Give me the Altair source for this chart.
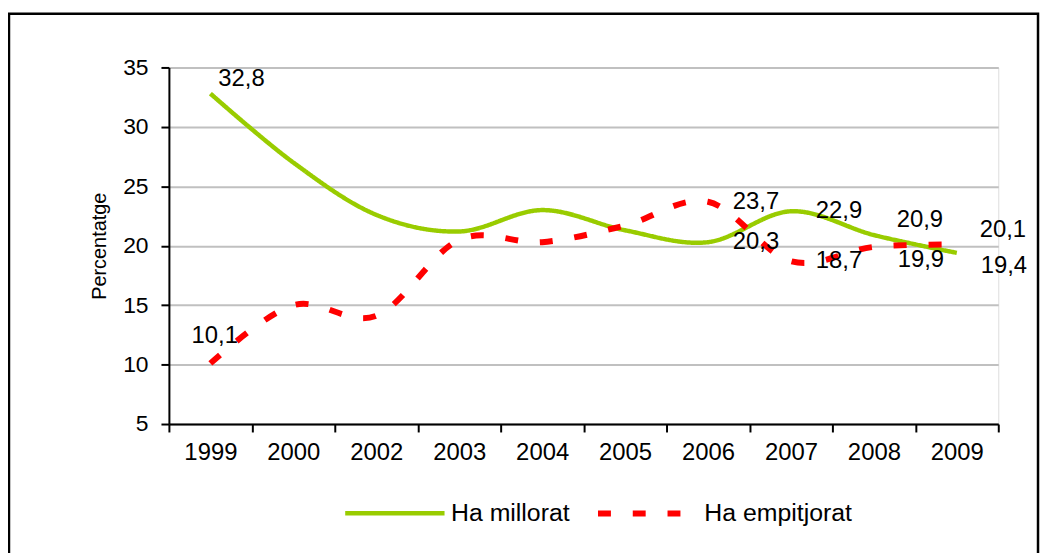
import altair as alt
import pandas as pd

years = ["1999", "2000", "2002", "2003", "2004", "2005", "2006", "2007", "2008", "2009"]
series_names = ["Ha millorat", "Ha empitjorat"]
millorat = [32.8, 27.0, 22.6, 21.2, 23.0, 21.3, 20.3, 22.9, 20.9, 19.4]
empitjorat = [10.1, 15.0, 14.1, 20.5, 20.3, 21.7, 23.7, 18.7, 19.9, 20.1]

# which points carry a value label, and where the label sits
label_millorat = ["upright", None, None, None, None, None, "right", "right", "above", "below"]
label_empitjorat = ["top", None, None, None, None, None, "right", "right", "below", "above"]

rows = []
for s, vals, places in [(series_names[0], millorat, label_millorat),
                        (series_names[1], empitjorat, label_empitjorat)]:
    for y, v, p in zip(years, vals, places):
        rows.append({"year": y, "series": s, "value": v,
                     "label": f"{v:.1f}".replace(".", ","), "place": p or ""})
df = pd.DataFrame(rows)

FONT = "Liberation Sans"

x_enc = alt.X("year:N", sort=years, bandPosition=0.5,
              scale=alt.Scale(type="band", paddingInner=0, paddingOuter=0),
              axis=alt.Axis(title=None, labelAngle=0, tickBand="extent", labelFont=FONT,
                            labelFontSize=24, labelColor="black", labelPadding=9,
                            domainColor="black", domainWidth=2, tickColor="black",
                            tickWidth=2, tickSize=8, grid=False))
y_enc = alt.Y("value:Q", scale=alt.Scale(domain=[5, 35], nice=False, zero=False),
              axis=alt.Axis(title="Percentatge", values=[5, 10, 15, 20, 25, 30, 35],
                            labelFont=FONT, labelFontSize=23, labelColor="black",
                            labelPadding=13, titleFont=FONT, titleFontSize=20,
                            titleFontWeight="normal", titleColor="black", titlePadding=13,
                            domainColor="black", domainWidth=2, tickColor="black",
                            tickWidth=2, tickSize=8, grid=True, gridColor="#c0c0c0",
                            gridWidth=2))

legend_kw = dict(title=None, orient="none", legendX=175, legendY=396,
                 direction="horizontal", symbolType="stroke", symbolSize=10000,
                 symbolStrokeWidth=5, labelFont=FONT, labelFontSize=25,
                 labelColor="black", labelOffset=4, columnPadding=16)

base = alt.Chart(df)

lines = base.mark_line(interpolate="cardinal", strokeCap="butt").encode(
    x=x_enc,
    y=y_enc,
    color=alt.Color("series:N", sort=series_names,
                    scale=alt.Scale(domain=series_names, range=["#99cc00", "#ff0000"]),
                    legend=alt.Legend(**legend_kw)),
    strokeDash=alt.StrokeDash("series:N", sort=series_names,
                              scale=alt.Scale(domain=series_names, range=[[1, 0], [13, 22]]),
                              legend=alt.Legend(**legend_kw)),
    strokeWidth=alt.StrokeWidth("series:N",
                                scale=alt.Scale(domain=series_names, range=[4.5, 6]),
                                legend=None),
)

offsets = {"upright": (8, -15), "top": (-19, -28), "right": (25, 0),
           "above": (23, -15), "below": (24, 13)}
texts = []
for place, (dx, dy) in offsets.items():
    texts.append(base.mark_text(align="left", baseline="middle", dx=dx, dy=dy,
                                font=FONT, fontSize=24, color="black")
                 .encode(x=x_enc, y=y_enc, text="label:N")
                 .transform_filter(alt.datum.place == place))

frame = alt.Chart(pd.DataFrame({"a": [0]})).mark_rect(
    filled=False, stroke="black", strokeWidth=2.5).encode(
    x=alt.value(-161), x2=alt.value(875), y=alt.value(-54), y2=alt.value(620))

chart = alt.layer(frame, lines, *texts).properties(
    width=835, height=359,
    autosize=alt.AutoSizeParams(type="none"),
    padding={"left": 162, "top": 58, "right": 42, "bottom": 128},
).configure_view(stroke=None).configure(background="white")

chart.save("out.html", embed_options={"renderer": "svg", "actions": False})
